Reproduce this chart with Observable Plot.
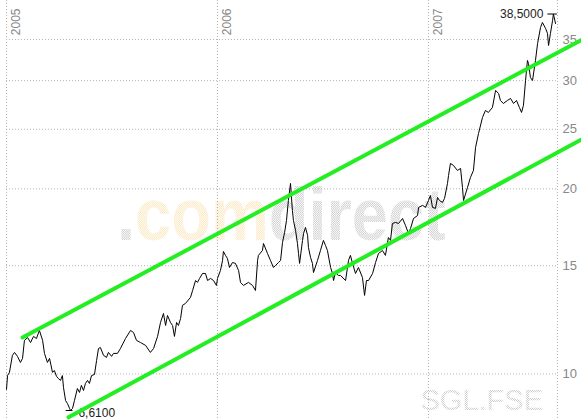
<!DOCTYPE html>
<html>
<head>
<meta charset="utf-8">
<script src="https://cdn.jsdelivr.net/npm/d3@7"></script>
<script src="https://cdn.jsdelivr.net/npm/@observablehq/plot@0.6"></script>
<style>
  html, body { margin: 0; padding: 0; background: #fff; }
  #chart { width: 581px; height: 420px; }
</style>
</head>
<body>
<div id="chart"></div>
<script>
// ---- data ----
const years = [2005, 2006, 2007];
const yTicks = [10, 15, 20, 25, 30, 35];

// decimal years
const dates = [
  2005.000,2005.005,2005.014,2005.028,2005.038,2005.052,2005.066,2005.076,2005.085,2005.100,
  2005.114,2005.128,2005.142,2005.156,2005.171,2005.180,2005.194,2005.204,2005.218,2005.227,
  2005.237,2005.246,2005.256,2005.265,2005.270,2005.280,2005.289,2005.299,2005.303,2005.313,
  2005.322,2005.336,2005.346,2005.355,2005.365,2005.374,2005.384,2005.393,2005.403,2005.417,
  2005.427,2005.436,2005.445,2005.460,2005.474,2005.483,2005.498,2005.507,2005.526,2005.540,
  2005.564,2005.588,2005.602,2005.616,2005.635,2005.659,2005.682,2005.697,2005.716,2005.730,
  2005.744,2005.754,2005.763,2005.777,2005.787,2005.796,2005.806,2005.815,2005.825,2005.834,
  2005.848,2005.872,2005.882,2005.896,2005.905,2005.915,2005.929,2005.943,2005.953,2005.967,
  2005.981,2005.995,2006.000,2006.014,2006.024,2006.028,2006.038,2006.047,2006.057,2006.071,
  2006.085,2006.100,2006.109,2006.123,2006.147,2006.166,2006.180,2006.190,2006.194,2006.213,
  2006.218,2006.237,2006.251,2006.265,2006.275,2006.289,2006.299,2006.308,2006.318,2006.327,
  2006.336,2006.346,2006.355,2006.360,2006.370,2006.379,2006.384,2006.389,2006.403,2006.408,
  2006.417,2006.427,2006.431,2006.441,2006.450,2006.455,2006.474,2006.488,2006.502,2006.512,
  2006.521,2006.536,2006.545,2006.550,2006.559,2006.573,2006.583,2006.607,2006.621,2006.630,
  2006.640,2006.654,2006.668,2006.687,2006.697,2006.706,2006.716,2006.735,2006.749,2006.763,
  2006.782,2006.796,2006.810,2006.820,2006.829,2006.844,2006.858,2006.877,2006.891,2006.905,
  2006.915,2006.929,2006.948,2006.953,2006.972,2006.986,2007.000,2007.009,2007.019,2007.033,
  2007.043,2007.052,2007.066,2007.076,2007.090,2007.095,2007.104,2007.118,2007.137,2007.152,
  2007.161,2007.166,2007.185,2007.199,2007.213,2007.223,2007.237,2007.256,2007.270,2007.284,
  2007.303,2007.318,2007.332,2007.341,2007.355,2007.374,2007.389,2007.403,2007.417,2007.431,
  2007.441,2007.450,2007.460,2007.469,2007.474,2007.483,2007.493,2007.507,2007.517,2007.531,
  2007.540,2007.555,2007.564,2007.569,2007.578,2007.588,2007.592,2007.602
];
const prices = [
  9.44,9.94,10.06,10.72,10.84,10.68,10.44,10.60,11.34,11.46,
  11.25,11.51,11.42,11.77,11.34,10.80,10.44,10.60,10.06,10.13,
  9.91,9.83,9.76,9.94,9.51,9.05,8.95,8.79,8.72,8.79,
  9.05,9.47,9.33,9.58,9.40,9.65,9.76,9.65,9.94,9.98,
  10.52,11.00,11.04,10.72,10.64,10.84,10.68,10.80,10.80,11.00,
  11.42,11.77,11.68,11.34,11.25,11.13,10.84,11.00,11.51,12.13,
  12.54,11.99,12.45,12.13,11.99,11.51,12.13,11.99,12.31,12.93,
  13.02,13.32,13.67,14.19,14.09,14.30,14.57,14.57,14.19,14.30,
  14.19,13.93,14.30,14.73,15.30,15.82,15.59,15.41,14.90,15.18,
  15.13,14.73,14.09,13.93,14.09,13.93,13.67,15.30,15.59,15.88,
  16.30,15.70,15.30,14.90,15.01,15.18,15.30,16.36,16.99,17.77,
  19.15,20.41,18.45,17.77,17.12,16.30,15.70,15.13,16.49,16.93,
  17.31,16.80,16.06,15.47,15.13,14.62,15.30,15.88,16.49,16.18,
  15.88,14.90,14.57,14.19,14.62,14.46,14.46,14.19,15.30,15.59,
  15.13,14.57,14.90,14.35,13.42,14.19,14.19,14.57,15.18,15.70,
  15.88,15.59,16.67,16.49,17.57,17.64,17.57,17.90,17.44,16.93,
  17.25,17.90,18.10,18.66,18.80,18.66,19.15,19.51,18.66,18.59,
  19.37,19.15,19.01,19.30,20.41,21.03,22.00,21.84,21.43,21.59,
  20.11,19.15,20.11,20.88,21.43,23.36,24.61,26.14,26.83,26.63,
  27.13,28.92,28.59,27.85,27.54,27.85,28.06,27.54,27.85,27.13,
  26.63,27.34,30.02,32.35,31.99,30.36,30.02,32.35,34.48,36.61,
  37.30,36.47,35.80,34.22,35.80,37.58,38.50,37.16
];

// trend channel (green)
const upperT = [2005.076, 2007.725];
const upperV = [11.46, 34.94];
const lowerT = [2005.294, 2007.725];
const lowerV = [8.50, 24.07];

const minLabel = "6,6100";
const maxLabel = "38,5000";
const ticker = "SGL.FSE";
const watermark = [".", "com", "direct"];

// ---- build ----
const series = dates.map((t, i) => ({t, v: prices[i]}));
const upper = upperT.map((t, i) => ({t, v: upperV[i]}));
const lower = lowerT.map((t, i) => ({t, v: lowerV[i]}));
const minPt = series[d3.minIndex(prices)];
const maxPt = series[d3.maxIndex(prices)];
const xEnd = 2007.6114;

const gridStyle = {stroke: "#b4b4b4", strokeOpacity: 1, strokeDasharray: "1,2", strokeWidth: 1};
const green = "#22ee22";

const plot = Plot.plot({
  width: 581,
  height: 420,
  marginLeft: 6,
  marginRight: 24,
  marginTop: 0,
  marginBottom: 0,
  x: {type: "linear", domain: [2005, xEnd], axis: null},
  y: {type: "log", domain: [8.40, 40.5], axis: null},
  style: {background: "transparent", fontFamily: "'Liberation Sans', Arial, sans-serif", overflow: "visible"},
  marks: [
    Plot.gridY(yTicks, gridStyle),
    Plot.gridX(years, gridStyle),
    Plot.ruleX([xEnd], gridStyle),
    Plot.axisY(yTicks, {anchor: "right", label: null, tickSize: 0, tickPadding: 5, tickFormat: d => String(d), fontSize: 13, fill: "#888"}),
    Plot.text(years, {x: d => d, text: d => String(d), frameAnchor: "top", rotate: -90, textAnchor: "end", dx: 5, dy: 8, fontSize: 12, fill: "#888"}),
    Plot.line(series, {x: "t", y: "v", stroke: "#000", strokeWidth: 1}),
    Plot.ruleY([minPt], {y: "v", x1: d => d.t - 0.02, x2: d => d.t + 0.012, stroke: "#000", strokeWidth: 1}),
    Plot.ruleY([maxPt], {y: "v", x1: d => d.t - 0.026, x2: d => d.t + 0.019, stroke: "#000", strokeWidth: 1}),
    Plot.text([minPt], {x: "t", y: "v", text: () => minLabel, textAnchor: "start", dx: 8, dy: 3, fontSize: 12, fill: "#222"}),
    Plot.text([maxPt], {x: "t", y: "v", text: () => maxLabel, textAnchor: "end", dx: -10, dy: 0, fontSize: 12, fill: "#222"}),
    Plot.line(upper, {x: "t", y: "v", stroke: green, strokeWidth: 4}),
    Plot.line(lower, {x: "t", y: "v", stroke: green, strokeWidth: 4})
  ]
});

// decorative watermark + ticker, behind the marks
const svg = d3.select(plot);
const defs = svg.insert("defs", ":first-child");
function checker(id, color) {
  const p = defs.append("pattern").attr("id", id).attr("width", 2).attr("height", 2)
    .attr("patternUnits", "userSpaceOnUse");
  p.append("rect").attr("x", 0).attr("y", 0).attr("width", 1).attr("height", 1).attr("fill", color);
  p.append("rect").attr("x", 1).attr("y", 1).attr("width", 1).attr("height", 1).attr("fill", color);
}
checker("pGray", "#cdcdcd");
checker("pYel", "#fbe6bc");
const back = svg.insert("g", "g").attr("class", "watermark");
const wm = back.append("g").attr("transform", "translate(117,240) scale(1,1.13)")
  .append("text")
  .attr("text-anchor", "start")
  .attr("font-family", "'Liberation Sans', Arial, sans-serif")
  .attr("font-weight", "bold").attr("font-size", 65);
wm.append("tspan").attr("fill", "url(#pGray)").text(watermark[0]);
wm.append("tspan").attr("fill", "url(#pYel)").text(watermark[1]);
wm.append("tspan").attr("fill", "url(#pGray)").text(watermark[2]);
back.append("text").attr("x", 543).attr("y", 410).attr("text-anchor", "end")
  .attr("font-family", "'Liberation Sans', Arial, sans-serif").attr("font-size", 29)
  .attr("fill", "url(#pGray)").text(ticker);

document.getElementById("chart").appendChild(plot);
</script>
</body>
</html>
